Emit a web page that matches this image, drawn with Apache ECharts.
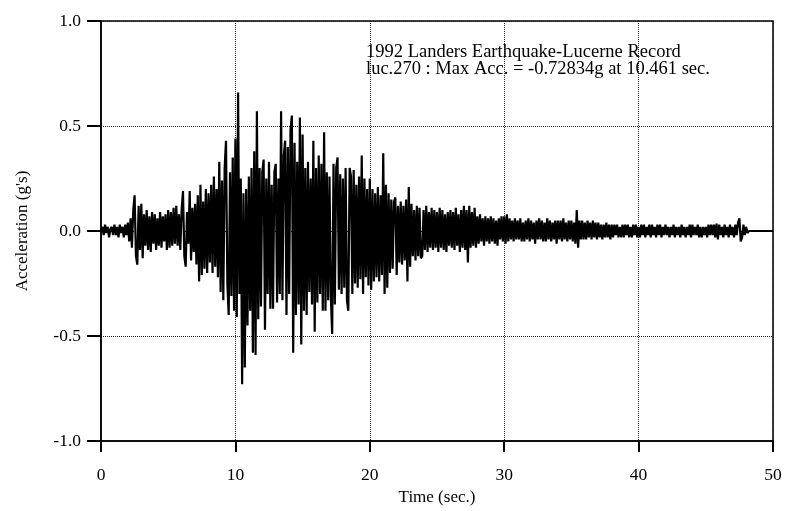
<!DOCTYPE html>
<html>
<head>
<meta charset="utf-8">
<script src="https://cdn.jsdelivr.net/npm/echarts@6/dist/echarts.min.js"></script>
<style>
  html, body { margin: 0; padding: 0; background: #fff; }
  #main { width: 788px; height: 511px; }
</style>
</head>
<body>
<div id="main"></div>
<script>
// sample spacing of the digitised record (sec.)
const dt = 0.1;

// acceleration (g), one row per second
const accel = [
  0.00, 0.02, -0.02, 0.03, -0.01, 0.02, -0.03, 0.01, 0.02, -0.02,
  0.03, -0.02, 0.02, -0.03, 0.03, -0.01, 0.02, -0.03, 0.03, -0.02,
  0.04, -0.05, 0.06, -0.08, 0.10, 0.17, -0.12, -0.16, 0.12, -0.09,
  0.13, -0.13, 0.08, -0.07, 0.10, -0.09, 0.07, -0.10, 0.09, -0.06,
  0.08, -0.09, 0.06, -0.07, 0.09, -0.08, 0.07, -0.05, 0.08, -0.09,
  0.10, -0.08, 0.09, -0.07, 0.11, -0.06, 0.12, -0.07, 0.08, -0.09,
  0.10, 0.19, -0.12, -0.17, 0.09, -0.06, 0.19, -0.14, 0.11, -0.10,
  0.13, -0.16, 0.17, -0.24, 0.22, -0.21, 0.14, -0.18, 0.20, -0.20,
  0.18, -0.15, 0.22, -0.20, 0.26, -0.17, 0.20, -0.22, 0.33, -0.29,
  0.24, -0.33, 0.30, 0.43, -0.25, -0.40, 0.28, -0.31, 0.35, -0.38,
  0.44, -0.41, 0.66, -0.30, 0.25, -0.73, 0.18, -0.65, 0.20, -0.45,
  0.26, -0.38, 0.30, -0.58, 0.38, -0.59, 0.57, -0.42, 0.30, -0.36,
  0.28, 0.34, -0.47, 0.25, -0.30, 0.33, -0.37, 0.22, -0.37, 0.28,
  0.32, -0.34, 0.25, -0.30, 0.57, -0.33, 0.36, 0.43, -0.40, 0.40,
  -0.30, 0.48, 0.55, -0.58, 0.42, -0.40, 0.33, -0.35, 0.54, -0.54,
  0.46, -0.38, 0.30, -0.40, 0.33, -0.29, 0.25, -0.35, 0.43, -0.48,
  0.30, -0.34, 0.36, -0.30, 0.32, -0.38, 0.47, -0.38, 0.28, -0.33,
  0.26, -0.31, -0.49, 0.32, -0.35, 0.30, 0.35, -0.28, 0.27, -0.30,
  0.25, -0.27, 0.30, -0.33, -0.38, 0.30, 0.26, -0.30, 0.29, -0.25,
  0.22, -0.27, 0.26, -0.23, 0.36, -0.30, 0.25, -0.22, 0.20, -0.26,
  0.25, -0.28, 0.20, -0.24, 0.18, -0.22, 0.21, -0.24, 0.17, -0.21,
  0.37, -0.30, 0.22, -0.27, 0.18, -0.20, 0.15, -0.18, 0.14, 0.16,
  -0.21, 0.12, -0.15, 0.14, -0.16, 0.12, -0.14, 0.15, -0.24, 0.21,
  -0.17, 0.13, -0.12, 0.10, -0.14, 0.12, -0.12, 0.11, -0.13, -0.12,
  0.10, -0.09, 0.12, -0.10, 0.09, -0.08, 0.11, -0.09, 0.10, -0.08,
  0.09, -0.10, 0.11, -0.08, 0.10, -0.09, 0.08, -0.10, 0.09, -0.07,
  0.10, -0.08, 0.09, -0.09, 0.11, -0.07, 0.08, -0.10, 0.10, -0.08,
  0.12, -0.09, 0.10, -0.15, 0.12, -0.08, 0.09, -0.07, 0.11, -0.08,
  0.07, -0.06, 0.08, -0.05, 0.06, -0.07, 0.07, -0.05, 0.06, -0.06,
  0.07, -0.05, 0.06, -0.06, 0.05, -0.07, 0.06, -0.04, 0.07, -0.05,
  0.07, -0.06, 0.08, -0.05, 0.06, -0.04, 0.05, -0.05, 0.06, -0.04,
  0.05, -0.04, 0.06, -0.05, 0.04, -0.05, 0.05, -0.04, 0.06, -0.05,
  0.05, -0.04, 0.04, -0.06, 0.05, -0.04, 0.06, -0.04, 0.05, -0.05,
  0.04, -0.05, 0.06, -0.04, 0.05, -0.05, 0.04, -0.04, 0.05, -0.06,
  0.05, -0.04, 0.05, -0.05, 0.06, -0.04, 0.04, -0.05, 0.05, -0.04,
  0.05, -0.05, 0.04, -0.06, 0.10, -0.08, 0.05, -0.04, 0.05, -0.04,
  0.04, -0.04, 0.05, -0.03, 0.04, -0.04, 0.05, -0.03, 0.04, -0.04,
  0.04, -0.03, 0.03, -0.04, 0.03, -0.03, 0.04, -0.03, 0.03, -0.04,
  0.03, -0.03, 0.03, -0.02, 0.03, -0.03, 0.02, -0.03, 0.03, -0.03,
  0.03, -0.02, 0.03, -0.03, 0.02, -0.03, 0.03, -0.02, 0.03, -0.03,
  0.02, -0.03, 0.03, -0.02, 0.03, -0.03, 0.02, -0.02, 0.03, -0.03,
  0.03, -0.02, 0.02, -0.03, 0.03, -0.02, 0.03, -0.03, 0.02, -0.02,
  0.03, -0.02, 0.02, -0.03, 0.02, -0.02, 0.03, -0.03, 0.02, -0.02,
  0.02, -0.03, 0.03, -0.02, 0.02, -0.03, 0.02, -0.02, 0.03, -0.03,
  0.03, -0.02, 0.02, -0.02, 0.03, -0.03, 0.02, -0.03, 0.02, -0.02,
  0.02, -0.03, 0.03, -0.02, 0.03, -0.02, 0.03, -0.03, 0.035, -0.04,
  0.03, -0.02, 0.02, -0.03, 0.03, -0.02, 0.02, -0.03, 0.03, -0.02,
  0.02, -0.03, 0.03, -0.02, 0.04, 0.06, -0.05, -0.03, 0.03, -0.02,
  0.02, -0.01, 0.00
];
// after the record ends the trace sits on zero up to the axis end
const tailTime = [50];
const tailAccel = [0];

const xTicks = [0, 10, 20, 30, 40, 50];
const yTicks = [-1.0, -0.5, 0.0, 0.5, 1.0];

const titleLines = [
  '1992 Landers Earthquake-Lucerne Record',
  'luc.270 : Max Acc. = -0.72834g at 10.461 sec.'
];

const points = accel.map((a, i) => [+(i * dt).toFixed(2), a]);
tailTime.forEach((t, i) => points.push([t, tailAccel[i]]));

const serif = '"Liberation Serif", "DejaVu Serif", serif';

const chart = echarts.init(document.getElementById('main'));
chart.setOption({
  animation: false,
  backgroundColor: '#fff',
  title: {
    text: titleLines.join('\n'),
    left: 361,
    top: 39,
    textStyle: {
      fontFamily: serif,
      fontSize: 18.5,
      fontWeight: 'normal',
      color: '#000',
      lineHeight: 17
    }
  },
  grid: {
    left: 101,
    right: 15,
    top: 21,
    bottom: 70,
    show: true,
    borderColor: '#000',
    borderWidth: 1.5
  },
  xAxis: {
    type: 'value',
    min: xTicks[0],
    max: xTicks[xTicks.length - 1],
    interval: 10,
    name: 'Time (sec.)',
    nameLocation: 'middle',
    nameGap: 48,
    nameTextStyle: { fontFamily: serif, fontSize: 17, color: '#000' },
    axisLine: { onZero: false, lineStyle: { color: '#000', width: 1.5 } },
    axisTick: { inside: false, length: 11, lineStyle: { color: '#000', width: 2 } },
    axisLabel: { fontFamily: serif, fontSize: 17.5, color: '#000', margin: 25 },
    splitLine: {
      show: true,
      lineStyle: { type: 'dotted', color: '#222', width: 1 }
    }
  },
  yAxis: {
    type: 'value',
    min: yTicks[0],
    max: yTicks[yTicks.length - 1],
    interval: 0.5,
    name: "Acceleration (g's)",
    nameLocation: 'middle',
    nameGap: 70,
    nameTextStyle: { fontFamily: serif, fontSize: 17, color: '#000' },
    axisLine: { lineStyle: { color: '#000', width: 1.5 } },
    axisTick: { inside: false, length: 14, lineStyle: { color: '#000', width: 2 } },
    axisLabel: {
      fontFamily: serif, fontSize: 17.5, color: '#000', margin: 20,
      formatter: v => v.toFixed(1)
    },
    splitLine: {
      show: true,
      lineStyle: { type: 'dotted', color: '#222', width: 1 }
    }
  },
  series: [{
    type: 'line',
    data: points,
    showSymbol: false,
    symbol: 'none',
    lineStyle: { color: '#000', width: 2.2 },
    z: 3
  }]
});
</script>
</body>
</html>
